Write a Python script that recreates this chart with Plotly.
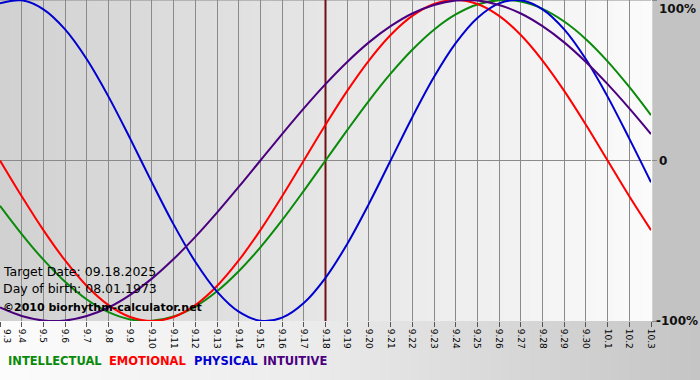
import plotly.graph_objects as go

# ---- data (percent values) ----
dates = ['9.3', '9.4', '9.5', '9.6', '9.7', '9.8', '9.9', '9.10', '9.11', '9.12',
         '9.13', '9.14', '9.15', '9.16', '9.17', '9.18', '9.19', '9.20', '9.21', '9.22',
         '9.23', '9.24', '9.25', '9.26', '9.27', '9.28', '9.29', '9.30', '10.1', '10.2', '10.3']

intellectual = [-28.2, -45.8, -61.8, -75.6, -86.6, -94.5, -99.0, -99.9, -97.2, -91.0,
                -81.5, -69.0, -54.1, -37.2, -18.9, 0.0, 18.9, 37.2, 54.1, 69.0,
                81.5, 91.0, 97.2, 99.9, 99.0, 94.5, 86.6, 75.6, 61.8, 45.8, 28.2]
emotional = [0.0, -22.3, -43.4, -62.3, -78.2, -90.1, -97.5, -100.0, -97.5, -90.1,
             -78.2, -62.3, -43.4, -22.3, 0.0, 22.3, 43.4, 62.3, 78.2, 90.1,
             97.5, 100.0, 97.5, 90.1, 78.2, 62.3, 43.4, 22.3, 0.0, -22.3, -43.4]
physical = [97.9, 99.8, 94.2, 81.7, 63.1, 39.8, 13.6, -13.6, -39.8, -63.1,
            -81.7, -94.2, -99.8, -97.9, -88.8, -73.1, -52.0, -27.0, 0.0, 27.0,
            52.0, 73.1, 88.8, 97.9, 99.8, 94.2, 81.7, 63.1, 39.8, 13.6, -13.6]
intuitive = [-91.6, -96.9, -99.7, -99.7, -96.9, -91.6, -83.7, -73.6, -61.4, -47.6,
             -32.5, -16.5, 0.0, 16.5, 32.5, 47.6, 61.4, 73.6, 83.7, 91.6,
             96.9, 99.7, 99.7, 96.9, 91.6, 83.7, 73.6, 61.4, 47.6, 32.5, 16.5]

target_date = '9.18'
y_ticks = [100, 0, -100]
y_labels = ['100%', '0', '-100%']

series = [
    ('INTELLECTUAL', intellectual, '#0a8a0a'),
    ('EMOTIONAL', emotional, '#ff0000'),
    ('PHYSICAL', physical, '#0000d0'),
    ('INTUITIVE', intuitive, '#4b0080'),
]

FONT = 'DejaVu Sans'
W, H = 700, 380
ML, MR, MT, MB = 0, 49, 0, 59
PW, PH = W - ML - MR, H - MT - MB

xi = list(range(len(dates)))
ti = dates.index(target_date)

fig = go.Figure()
# target date marker line
fig.add_trace(go.Scatter(x=[ti, ti], y=[-100, 100], mode='lines',
                         line=dict(color='#701010', width=2), hoverinfo='skip',
                         cliponaxis=False))
for name, vals, col in series:
    fig.add_trace(go.Scatter(x=xi, y=vals, mode='lines', name=name,
                             line=dict(color=col, width=2, shape='spline', smoothing=1.0),
                             hoverinfo='skip'))


def mix(c1, c2, t):
    return '#%02x%02x%02x' % tuple(round(a + (b - a) * t) for a, b in zip(c1, c2))


shapes = []
# plot-area horizontal gradient (dark left -> light right)
n = 70
for i in range(n):
    shapes.append(dict(type='rect', xref='paper', yref='paper', layer='below',
                       x0=i / n, x1=(i + 1) / n + 0.002, y0=0, y1=1,
                       fillcolor=mix((0xd1, 0xd1, 0xd1), (0xfb, 0xfb, 0xfb), (i + 0.5) / n),
                       line=dict(width=0)))
# bottom band gradient (light left -> gray right)
xmax = W / PW
ybot = -MB / PH
n2 = 70
for i in range(n2):
    t = (i + 0.5) / n2
    if t < 0.45:
        c = mix((0xfc, 0xfc, 0xfc), (0xeb, 0xeb, 0xeb), t / 0.45)
    else:
        c = mix((0xeb, 0xeb, 0xeb), (0xc4, 0xc4, 0xc4), (t - 0.45) / 0.55)
    shapes.append(dict(type='rect', xref='paper', yref='paper', layer='below',
                       x0=i / n2 * xmax, x1=(i + 1) / n2 * xmax + 0.003, y0=ybot - 0.01, y1=0,
                       fillcolor=c, line=dict(width=0)))
# top border
shapes.append(dict(type='line', xref='paper', yref='paper', layer='between',
                   x0=0, x1=1, y0=1, y1=1, line=dict(color='#8a8a8a', width=1)))

annotations = []
for v, lab in zip(y_ticks, y_labels):
    anc = 'top' if v == 100 else ('bottom' if v == -100 else 'middle')
    yshift = 0 if v != -100 else -9
    annotations.append(dict(x=1, xref='paper', y=v, yref='y', text='<b>%s</b>' % lab,
                            xanchor='left', yanchor=anc, xshift=6 if v != -100 else 3,
                            yshift=yshift, showarrow=False,
                            font=dict(family=FONT, size=12, color='#111111')))

# first date label sits at the figure edge (plotly hides it), draw it explicitly
annotations.append(dict(x=0, xref='x', y=0, yref='paper', text=dates[0], textangle=90,
                        xanchor='left', yanchor='top', yshift=-6, xshift=0, showarrow=False,
                        font=dict(family=FONT, size=9, color='#000000')))

info = [('Target Date: 09.18.2025', 271, False),
        ('Day of birth: 08.01.1973', 288, False),
        ('\u00a92010 biorhythm-calculator.net', 307, True)]
for txt, ypx, bold in info:
    annotations.append(dict(x=0, xref='paper', y=1 - ypx / PH, yref='paper',
                            text=('<b>%s</b>' % txt) if bold else txt,
                            xanchor='left', yanchor='middle', xshift=1, showarrow=False,
                            font=dict(family=FONT, size=12.5 if not bold else 11,
                                      color='#000000')))

legend_x = [7, 108, 193, 262]
for (nm, _, c), lx in zip(series, legend_x):
    annotations.append(dict(x=lx / PW, xref='paper', y=-(361 - PH) / PH, yref='paper',
                            text='<b>%s</b>' % nm, xanchor='left', yanchor='middle',
                            xshift=-1, showarrow=False,
                            font=dict(family=FONT, size=11.5, color=c)))

fig.update_layout(
    width=W, height=H,
    margin=dict(l=ML, r=MR, t=MT, b=MB, pad=0),
    paper_bgcolor='#c3c3c3',
    plot_bgcolor='rgba(0,0,0,0)',
    showlegend=False,
    shapes=shapes,
    annotations=annotations,
    xaxis=dict(range=[0, len(dates) - 1], tickmode='array', tickvals=xi, ticktext=dates,
               tickangle=90, ticks='outside', ticklen=5, tickcolor='#555555',
               tickfont=dict(family=FONT, size=9, color='#000000'),
               showgrid=True, gridcolor='#8a8a8a', gridwidth=1,
               zeroline=False, showline=False, fixedrange=True),
    yaxis=dict(range=[-100, 100], side='right', tickmode='array', tickvals=y_ticks,
               ticks='outside', ticklen=5, tickcolor='#8a8a8a', showticklabels=False,
               showgrid=False, zeroline=True, zerolinecolor='#8a8a8a', zerolinewidth=1,
               showline=False, fixedrange=True),
)

fig.write_html('out.html', config={'displayModeBar': False, 'staticPlot': True},
               post_script="document.body.style.margin='0';document.body.style.overflow='hidden';")
